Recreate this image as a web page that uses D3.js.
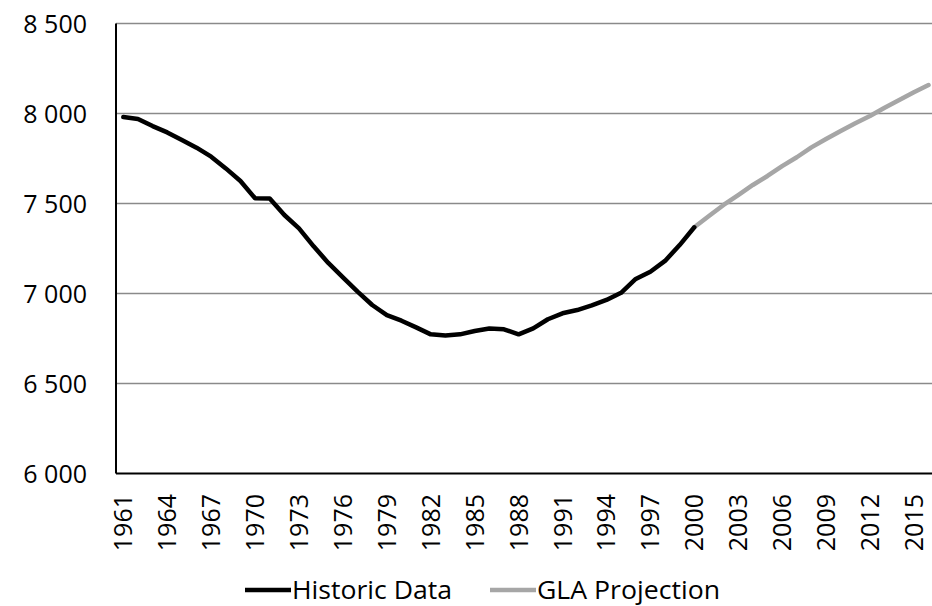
<!DOCTYPE html>
<html>
<head>
<meta charset="utf-8">
<script src="https://cdn.jsdelivr.net/npm/d3@7"></script>
<style>
  html, body { margin: 0; padding: 0; background: #fff; }
  svg { display: block; }
  text { font-family: "Open Sans", "DejaVu Sans", sans-serif; fill: #000; }
</style>
</head>
<body>
<svg id="chart" width="932" height="606"></svg>
<script>
// categories (years on the x axis)
let years = [1961, 1962, 1963, 1964, 1965, 1966, 1967, 1968, 1969, 1970,
    1971, 1972, 1973, 1974, 1975, 1976, 1977, 1978, 1979, 1980,
    1981, 1982, 1983, 1984, 1985, 1986, 1987, 1988, 1989, 1990,
    1991, 1992, 1993, 1994, 1995, 1996, 1997, 1998, 1999, 2000,
    2001, 2002, 2003, 2004, 2005, 2006, 2007, 2008, 2009, 2010,
    2011, 2012, 2013, 2014, 2015, 2016];

// Historic Data, 1961 - 2000
let historicYears = years.slice(0, 40);
let historicValues = [7980, 7970, 7930, 7895, 7853, 7810, 7760, 7695, 7625, 7529,
    7528, 7436, 7362, 7262, 7170, 7090, 7010, 6936, 6880, 6849,
    6812, 6773, 6767, 6773, 6792, 6806, 6801, 6773, 6806, 6857,
    6890, 6908, 6934, 6964, 7004, 7081, 7121, 7181, 7269, 7368];

// GLA Projection, 2000 - 2016
let projectionYears = years.slice(39);
let projectionValues = [7368, 7431, 7492, 7547, 7603, 7653, 7708, 7757, 7812, 7858,
    7903, 7946, 7986, 8032, 8075, 8118, 8158];

let yTicks = [6000, 6500, 7000, 7500, 8000, 8500];
let xTickLabels = [1961, 1964, 1967, 1970, 1973, 1976, 1979, 1982, 1985, 1988,
    1991, 1994, 1997, 2000, 2003, 2006, 2009, 2012, 2015];

let seriesNames = ["Historic Data", "GLA Projection"];
let seriesColors = ["#000000", "#a6a6a6"];

let svg = d3.select("#chart");

let plotLeft = 116, plotTop = 23.5, plotBottom = 473.5;
let step = 14.64; // width of one year slot
let plotRight = plotLeft + years.length * step;
let x = d3.scaleBand().domain(years).range([plotLeft, plotRight]);
let y = d3.scaleLinear().domain([6000, 8500]).range([plotBottom, plotTop]);
let cx = d => x(d) + x.bandwidth() / 2;

let fmt = v => d3.format(",")(v).replace(",", " ");

// gridlines
svg.append("g")
    .selectAll("line")
    .data(yTicks.filter(d => d !== 6000))
    .join("line")
    .attr("x1", plotLeft)
    .attr("x2", plotRight)
    .attr("y1", d => y(d))
    .attr("y2", d => y(d))
    .attr("stroke", "#8a8a8a")
    .attr("stroke-width", 1.5);

// y axis labels
svg.append("g")
    .selectAll("text")
    .data(yTicks)
    .join("text")
    .attr("x", 87)
    .attr("y", d => y(d) + 9)
    .attr("text-anchor", "end")
    .style("font-size", "25px")
    .text(fmt);

// x axis labels, rotated
svg.append("g")
    .selectAll("text")
    .data(xTickLabels)
    .join("text")
    .attr("transform", d => "translate(" + (cx(d) + 9) + ",494) rotate(-90)")
    .attr("text-anchor", "end")
    .style("font-size", "25px")
    .text(d => d);

// axes lines
svg.append("line")
    .attr("x1", plotLeft).attr("x2", plotLeft)
    .attr("y1", plotTop).attr("y2", plotBottom)
    .attr("stroke", "#000").attr("stroke-width", 2);
svg.append("line")
    .attr("x1", plotLeft).attr("x2", plotRight)
    .attr("y1", plotBottom).attr("y2", plotBottom)
    .attr("stroke", "#000").attr("stroke-width", 2);

let line = d3.line()
    .x(d => cx(d.year))
    .y(d => y(d.value));

let historic = historicYears.map((yr, i) => ({year: yr, value: historicValues[i]}));
let projection = projectionYears.map((yr, i) => ({year: yr, value: projectionValues[i]}));

svg.append("path")
    .datum(projection)
    .attr("d", line)
    .attr("fill", "none")
    .attr("stroke", seriesColors[1])
    .attr("stroke-width", 4.5)
    .attr("stroke-linejoin", "round")
    .attr("stroke-linecap", "round");

svg.append("path")
    .datum(historic)
    .attr("d", line)
    .attr("fill", "none")
    .attr("stroke", seriesColors[0])
    .attr("stroke-width", 4.5)
    .attr("stroke-linejoin", "round")
    .attr("stroke-linecap", "round");

// legend
let legendItems = [
    {name: seriesNames[0], color: seriesColors[0], x: 245, len: 160},
    {name: seriesNames[1], color: seriesColors[1], x: 490, len: 183}
];
let legend = svg.append("g");
legendItems.forEach(item => {
    legend.append("line")
        .attr("x1", item.x).attr("x2", item.x + 46)
        .attr("y1", 590).attr("y2", 590)
        .attr("stroke", item.color)
        .attr("stroke-width", 4.5);
    legend.append("text")
        .attr("x", item.x + 47)
        .attr("y", 599)
        .attr("textLength", item.len)
        .attr("lengthAdjust", "spacingAndGlyphs")
        .style("font-size", "25px")
        .text(item.name);
});
</script>
</body>
</html>
